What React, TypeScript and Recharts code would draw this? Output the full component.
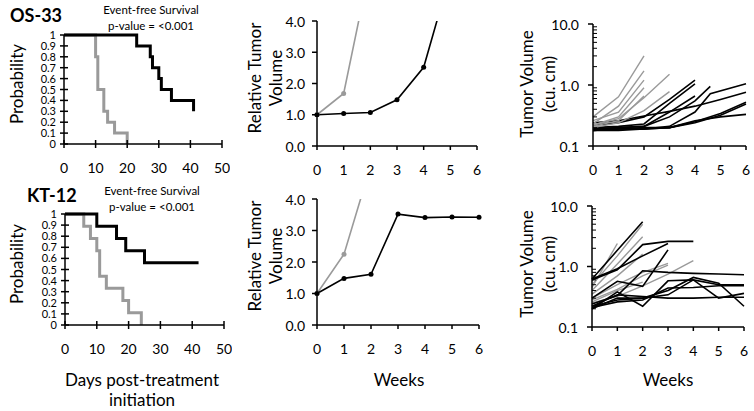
import React from 'react';
import { LineChart, Line, XAxis, YAxis } from 'recharts';

const FONT = 'Lato, "Open Sans", sans-serif';
const GRAY = '#9a9a9a';

// Kaplan-Meier event-free survival, OS-33
const os33TreatedDays = [0, 23, 27.3, 28, 30, 30.8, 34, 41];
const os33TreatedProb = [1, 0.9, 0.8, 0.7, 0.6, 0.5, 0.4, 0.3];
const os33ControlDays = [0, 10, 10.7, 12.6, 13.8, 16, 20];
const os33ControlProb = [1, 0.8, 0.5, 0.3, 0.2, 0.1, 0];

// Kaplan-Meier event-free survival, KT-12
const kt12TreatedDays = [0, 10, 16.2, 19.1, 25, 42];
const kt12TreatedProb = [1, 0.89, 0.78, 0.67, 0.56, 0.56];
const kt12ControlDays = [0, 5.9, 8, 10, 10.9, 13, 18.2, 20, 24];
const kt12ControlProb = [1, 0.89, 0.78, 0.67, 0.44, 0.33, 0.22, 0.11, 0];

const kmDayTicks = [0, 10, 20, 30, 40, 50];
const kmProbTicks = [0, 0.1, 0.2, 0.3, 0.4, 0.5, 0.6, 0.7, 0.8, 0.9, 1];
const kmProbLabels = ['0', '0.1', '0.2', '0.3', '0.4', '0.5', '0.6', '0.7', '0.8', '0.9', '1'];

// relative tumor volume (median)
const weeks = [0, 1, 2, 3, 4, 5, 6];
const os33RelTreated = [1.0, 1.04, 1.07, 1.48, 2.52, 5.5];
const os33RelControl = [1.0, 1.68, 5.8];
const kt12RelTreated = [1.0, 1.48, 1.61, 3.52, 3.41, 3.43, 3.42];
const kt12RelControl = [1.0, 2.25, 5.1];
const relTicks = [0, 1, 2, 3, 4];

// individual tumor volumes (cu. cm), one list per mouse
const os33CtrlMice = [
  [0.30, 0.64, 3.0],
  [0.23, 0.45, 1.7],
  [0.26, 0.36, 1.2],
  [0.22, 0.30, 0.9],
  [0.21, 0.26, 0.66],
  [0.22, 0.28, 0.62, 1.5],
  [0.20, 0.24, 0.38, 0.78],
];
const os33TxMice = [
  [0.22, 0.24, 0.30, 0.58, 1.2],
  [0.20, 0.21, 0.23, 0.50, 1.04],
  [0.19, 0.20, 0.21, 0.36, 0.66],
  [0.24, 0.26, 0.31, 0.37, 0.45, 0.58, 0.76],
  [0.18, 0.19, 0.19, 0.20, 0.25, 0.34, 0.52],
  [0.18, 0.18, 0.19, 0.20, 0.24, 0.32, 0.49],
  [0.19, 0.19, 0.20, 0.20, 0.26, 0.30, 0.33],
];
const os33LateWeeksA = [0, 1, 2, 3, 4, 4.6];
const os33LateMouseA = [0.19, 0.2, 0.21, 0.3, 0.55, 0.95];
const os33LateWeeksB = [0, 1, 2, 3, 4, 4.6, 6];
const os33LateMouseB = [0.18, 0.19, 0.19, 0.21, 0.36, 0.72, 1.05];

const kt12CtrlMice = [
  [0.45, 2.4],
  [0.5, 1.5, 5.0],
  [0.4, 1.1, 3.1],
  [0.35, 0.7, 1.6],
  [0.3, 0.5, 0.8, 1.13],
  [0.28, 0.42, 0.7, 1.05],
  [0.25, 0.32, 0.48, 0.75, 1.25],
  [0.26, 0.4, 0.55],
];
const kt12TxMice = [
  [0.62, 1.85, 5.5],
  [0.6, 0.88, 2.3, 2.6, 2.6],
  [0.62, 0.92, 1.5, 2.4],
  [0.3, 0.57, 0.47, 1.88],
  [0.24, 0.33, 0.85, 0.8, 0.77, 0.75, 0.73],
  [0.2, 0.38, 0.22, 0.58, 0.6, 0.5, 0.5],
  [0.2, 0.3, 0.3, 0.4, 0.66, 0.53, 0.22],
  [0.22, 0.28, 0.3, 0.34, 0.6, 0.3, 0.36],
  [0.22, 0.34, 0.32, 0.3, 0.3, 0.31, 0.31],
  [0.21, 0.26, 0.28, 0.44, 0.45, 0.48, 0.48],
];

const logMajor = [0.1, 1, 10];
const logTicks = [0.1, 0.2, 0.3, 0.4, 0.5, 0.6, 0.7, 0.8, 0.9, 1, 2, 3, 4, 5, 6, 7, 8, 9, 10];

const pts = (xs: number[], ys: number[]) => ys.map((y, i) => ({ x: xs[i], y }));

// ---- tick renderers (tickSize/tickMargin 0, so x/y are the axis position) ----
const kmXTick = (p: any) => (
  <g>
    <line x1={p.x} x2={p.x} y1={p.y - 4} y2={p.y + 4} stroke="#000" strokeWidth={1.5} />
    <text x={p.x} y={p.y + 29} textAnchor="middle" fontSize={14} fontFamily={FONT} fill="#000">
      {p.payload.value}
    </text>
  </g>
);
const kmYTick = (p: any) => (
  <g>
    <line x1={p.x - 4} x2={p.x + 4} y1={p.y} y2={p.y} stroke="#000" strokeWidth={1.5} />
    <text x={p.x - 8} y={p.y + 4} textAnchor="end" fontSize={11} fontFamily={FONT} fill="#000">
      {kmProbLabels[p.index]}
    </text>
  </g>
);
const weekTick = (p: any) => (
  <g>
    <line x1={p.x} x2={p.x} y1={p.y} y2={p.y + 4} stroke="#000" strokeWidth={1.5} />
    <text x={p.x} y={p.y + 29} textAnchor="middle" fontSize={14} fontFamily={FONT} fill="#000">
      {p.payload.value}
    </text>
  </g>
);
const relYTick = (p: any) => (
  <g>
    <line x1={p.x - 5} x2={p.x} y1={p.y} y2={p.y} stroke="#000" strokeWidth={1.5} />
    <text x={p.x - 12} y={p.y} textAnchor="end" dominantBaseline="central" fontSize={14} fontFamily={FONT} fill="#000">
      {p.payload.value.toFixed(1)}
    </text>
  </g>
);
const logYTick = (p: any) => {
  const v = p.payload.value;
  const major = logMajor.includes(v);
  return (
    <g>
      {major ? (
        <line x1={p.x - 5} x2={p.x} y1={p.y} y2={p.y} stroke="#000" strokeWidth={1.5} />
      ) : (
        <line x1={p.x} x2={p.x + 4} y1={p.y} y2={p.y} stroke="#000" strokeWidth={1} />
      )}
      {major && (
        <text x={p.x - 14} y={p.y} textAnchor="end" dominantBaseline="central" fontSize={14} fontFamily={FONT} fill="#000">
          {v.toFixed(1)}
        </text>
      )}
    </g>
  );
};

interface PanelProps {
  plot: { x0: number; y0: number; x1: number; y1: number };
  xDomain: number[];
  yDomain: number[];
  xTicks: number[];
  yTicks: number[];
  xTick: any;
  yTick: any;
  log?: boolean;
  clip?: boolean;
  children: React.ReactNode;
}

function Panel({ plot, xDomain, yDomain, xTicks, yTicks, xTick, yTick, log, clip, children }: PanelProps) {
  const YW = 50, XH = 45, MT = 8, MR = 8;
  const width = plot.x1 - plot.x0 + YW + MR;
  const height = plot.y1 - plot.y0 + MT + XH;
  const axisLine = { stroke: '#000', strokeWidth: 1.5 };
  return (
    <div style={{ position: 'absolute', left: plot.x0 - YW, top: plot.y0 - MT }}>
      <LineChart width={width} height={height} margin={{ top: MT, right: MR, bottom: 0, left: 0 }}>
        <XAxis
          type="number"
          dataKey="x"
          domain={xDomain}
          ticks={xTicks}
          interval={0}
          height={XH}
          tickSize={0}
          tickMargin={0}
          tickLine={false}
          tick={xTick}
          axisLine={axisLine}
        />
        <YAxis
          type="number"
          domain={yDomain}
          ticks={yTicks}
          interval={0}
          width={YW}
          scale={log ? 'log' : 'auto'}
          tickSize={0}
          tickMargin={0}
          tickLine={false}
          tick={yTick}
          axisLine={axisLine}
          allowDataOverflow={!!clip}
        />
        {children}
      </LineChart>
    </div>
  );
}

const kmLine = (key: string, data: any[], color: string) => (
  <Line key={key} data={data} dataKey="y" type="stepAfter" stroke={color} strokeWidth={3} dot={false} isAnimationActive={false} />
);
const relLine = (key: string, data: any[], color: string) => (
  <Line
    key={key}
    data={data}
    dataKey="y"
    type="linear"
    stroke={color}
    strokeWidth={1.6}
    dot={{ r: 2.5, fill: color, stroke: color, strokeWidth: 0 }}
    isAnimationActive={false}
  />
);
const mouseLine = (key: string, data: any[], color: string, w = 1.6) => (
  <Line key={key} data={data} dataKey="y" type="linear" stroke={color} strokeWidth={w} dot={false} isAnimationActive={false} />
);

export default function App() {
  const t = { fontFamily: FONT, fill: '#000' };
  return (
    <div style={{ position: 'absolute', left: 0, top: 0, width: 754, height: 411, background: '#fff', overflow: 'hidden' }}>
      {/* Kaplan-Meier panels */}
      <Panel plot={{ x0: 64, y0: 35, x1: 222, y1: 144 }} xDomain={[0, 50]} yDomain={[0, 1]} xTicks={kmDayTicks} yTicks={kmProbTicks} xTick={kmXTick} yTick={kmYTick}>
        {kmLine('c', pts(os33ControlDays, os33ControlProb), GRAY)}
        {kmLine('t', pts(os33TreatedDays, os33TreatedProb), '#000')}
      </Panel>
      <Panel plot={{ x0: 65, y0: 214, x1: 224, y1: 325 }} xDomain={[0, 50]} yDomain={[0, 1]} xTicks={kmDayTicks} yTicks={kmProbTicks} xTick={kmXTick} yTick={kmYTick}>
        {kmLine('c', pts(kt12ControlDays, kt12ControlProb), GRAY)}
        {kmLine('t', pts(kt12TreatedDays, kt12TreatedProb), '#000')}
      </Panel>

      {/* relative tumor volume */}
      <Panel plot={{ x0: 317, y0: 21, x1: 477, y1: 146 }} xDomain={[0, 6]} yDomain={[0, 4]} xTicks={weeks} yTicks={relTicks} xTick={weekTick} yTick={relYTick} clip>
        {relLine('c', pts(weeks, os33RelControl), GRAY)}
        {relLine('t', pts(weeks, os33RelTreated), '#000')}
      </Panel>
      <Panel plot={{ x0: 317, y0: 199, x1: 479, y1: 325 }} xDomain={[0, 6]} yDomain={[0, 4]} xTicks={weeks} yTicks={relTicks} xTick={weekTick} yTick={relYTick} clip>
        {relLine('c', pts(weeks, kt12RelControl), GRAY)}
        {relLine('t', pts(weeks, kt12RelTreated), '#000')}
      </Panel>

      {/* individual tumor volumes, log scale */}
      <Panel plot={{ x0: 593, y0: 24, x1: 746, y1: 146 }} xDomain={[0, 6]} yDomain={[0.1, 10]} xTicks={weeks} yTicks={logTicks} xTick={weekTick} yTick={logYTick} log>
        {os33TxMice.map((m, i) => mouseLine('t' + i, pts(weeks, m), '#000'))}
        {mouseLine('la', pts(os33LateWeeksA, os33LateMouseA), '#000')}
        {mouseLine('lb', pts(os33LateWeeksB, os33LateMouseB), '#000')}
        {os33CtrlMice.map((m, i) => mouseLine('c' + i, pts(weeks, m), GRAY, 1.4))}
      </Panel>
      <Panel plot={{ x0: 592, y0: 206, x1: 744, y1: 327 }} xDomain={[0, 6]} yDomain={[0.1, 10]} xTicks={weeks} yTicks={logTicks} xTick={weekTick} yTick={logYTick} log>
        {kt12CtrlMice.map((m, i) => mouseLine('c' + i, pts(weeks, m), GRAY, 1.4))}
        {kt12TxMice.map((m, i) => mouseLine('t' + i, pts(weeks, m), '#000'))}
      </Panel>

      {/* titles and axis labels */}
      <svg width={754} height={411} style={{ position: 'absolute', left: 0, top: 0, pointerEvents: 'none' }}>
        <text x={10} y={22} fontSize={18} fontWeight="bold" {...t}>OS-33</text>
        <text x={151} y={14} fontSize={11.5} textAnchor="middle" {...t}>Event-free Survival</text>
        <text x={151} y={30} fontSize={11.5} textAnchor="middle" {...t}>p-value = &lt;0.001</text>

        <text x={27} y={202} fontSize={18} fontWeight="bold" {...t}>KT-12</text>
        <text x={152} y={195} fontSize={11.5} textAnchor="middle" {...t}>Event-free Survival</text>
        <text x={152} y={211} fontSize={11.5} textAnchor="middle" {...t}>p-value = &lt;0.001</text>

        <text transform="translate(16,84) rotate(-90)" fontSize={17} textAnchor="middle" dominantBaseline="central" {...t}>Probability</text>
        <text transform="translate(16,264) rotate(-90)" fontSize={17} textAnchor="middle" dominantBaseline="central" {...t}>Probability</text>

        <text transform="translate(254,78) rotate(-90)" fontSize={17} textAnchor="middle" dominantBaseline="central" {...t}>Relative Tumor</text>
        <text transform="translate(275,78) rotate(-90)" fontSize={17} textAnchor="middle" dominantBaseline="central" {...t}>Volume</text>
        <text transform="translate(254,256) rotate(-90)" fontSize={17} textAnchor="middle" dominantBaseline="central" {...t}>Relative Tumor</text>
        <text transform="translate(275,256) rotate(-90)" fontSize={17} textAnchor="middle" dominantBaseline="central" {...t}>Volume</text>

        <text transform="translate(526,84) rotate(-90)" fontSize={17} textAnchor="middle" dominantBaseline="central" {...t}>Tumor Volume</text>
        <text transform="translate(548,84) rotate(-90)" fontSize={17} textAnchor="middle" dominantBaseline="central" {...t}>(cu. cm)</text>
        <text transform="translate(526,264) rotate(-90)" fontSize={17} textAnchor="middle" dominantBaseline="central" {...t}>Tumor Volume</text>
        <text transform="translate(548,264) rotate(-90)" fontSize={17} textAnchor="middle" dominantBaseline="central" {...t}>(cu. cm)</text>

        <text x={142} y={386} fontSize={17} textAnchor="middle" {...t}>Days post-treatment</text>
        <text x={142} y={406} fontSize={17} textAnchor="middle" {...t}>initiation</text>
        <text x={399} y={386} fontSize={17} textAnchor="middle" {...t}>Weeks</text>
        <text x={668} y={386} fontSize={17} textAnchor="middle" {...t}>Weeks</text>
      </svg>
    </div>
  );
}
